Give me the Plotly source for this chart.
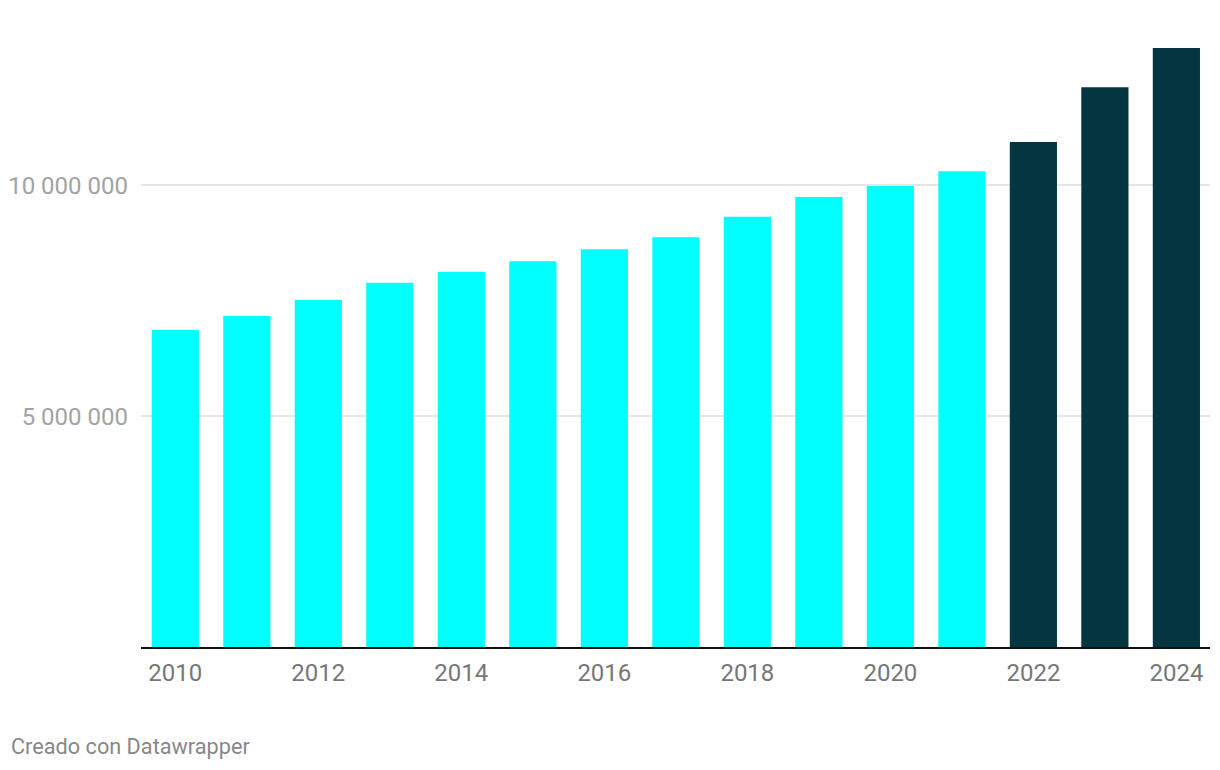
import plotly.graph_objects as go

# data
years = list(range(2010, 2025))
valores = [6870000, 7170000, 7520000, 7890000, 8130000, 8360000, 8620000, 8880000,
           9320000, 9750000, 9990000, 10310000, 10940000, 12130000, 12980000]
resaltados = [2022, 2023, 2024]

CYAN = "#00FFFF"
DARK = "#033641"
colores = [DARK if y in resaltados else CYAN for y in years]

fig = go.Figure(go.Bar(x=years, y=valores, marker_color=colores, marker_line_width=0,
                       width=0.66, hoverinfo="x+y"))

# the page body adds an 8px offset, so margins are shifted to compensate
OFF = 8
L, R, T, B = 141 - OFF, 10 + OFF, 47 - OFF, 123 + OFF
W, H = 1220, 770
pw, ph = W - L - R, H - T - B

fig.update_layout(
    width=W, height=H,
    margin=dict(l=L, r=R, t=T, b=B),
    plot_bgcolor="white",
    paper_bgcolor="white",
    separators=". ",
    font=dict(family="Roboto", size=24),
    showlegend=False,
    annotations=[dict(
        text="Creado con Datawrapper",
        xref="paper", yref="paper",
        x=(9 - OFF - L) / pw, y=(T + ph - (746 - OFF)) / ph,
        xanchor="left", yanchor="middle",
        showarrow=False,
        font=dict(family="Roboto", size=21.7, color="#888888"),
    )],
)

fig.update_xaxes(
    range=[2009.52, 2024.47],
    tickvals=years[::2],
    ticktext=[str(y) for y in years[::2]],
    showgrid=False,
    showline=True, linecolor="#111111", linewidth=2,
    ticks="",
    tickfont=dict(color="#777777", size=24),
    ticklabelstandoff=3,
    zeroline=False,
    automargin=False,
)

fig.update_yaxes(
    range=[0, 13000000],
    tickvals=[5000000, 10000000],
    tickformat=",d",
    showgrid=True, gridcolor="#e6e6e6", gridwidth=1.5,
    zeroline=False,
    showline=False,
    ticks="",
    tickfont=dict(color="#a3a3a3", size=24),
    ticklabelstandoff=12,
    automargin=False,
)

fig.write_html("out.html")
